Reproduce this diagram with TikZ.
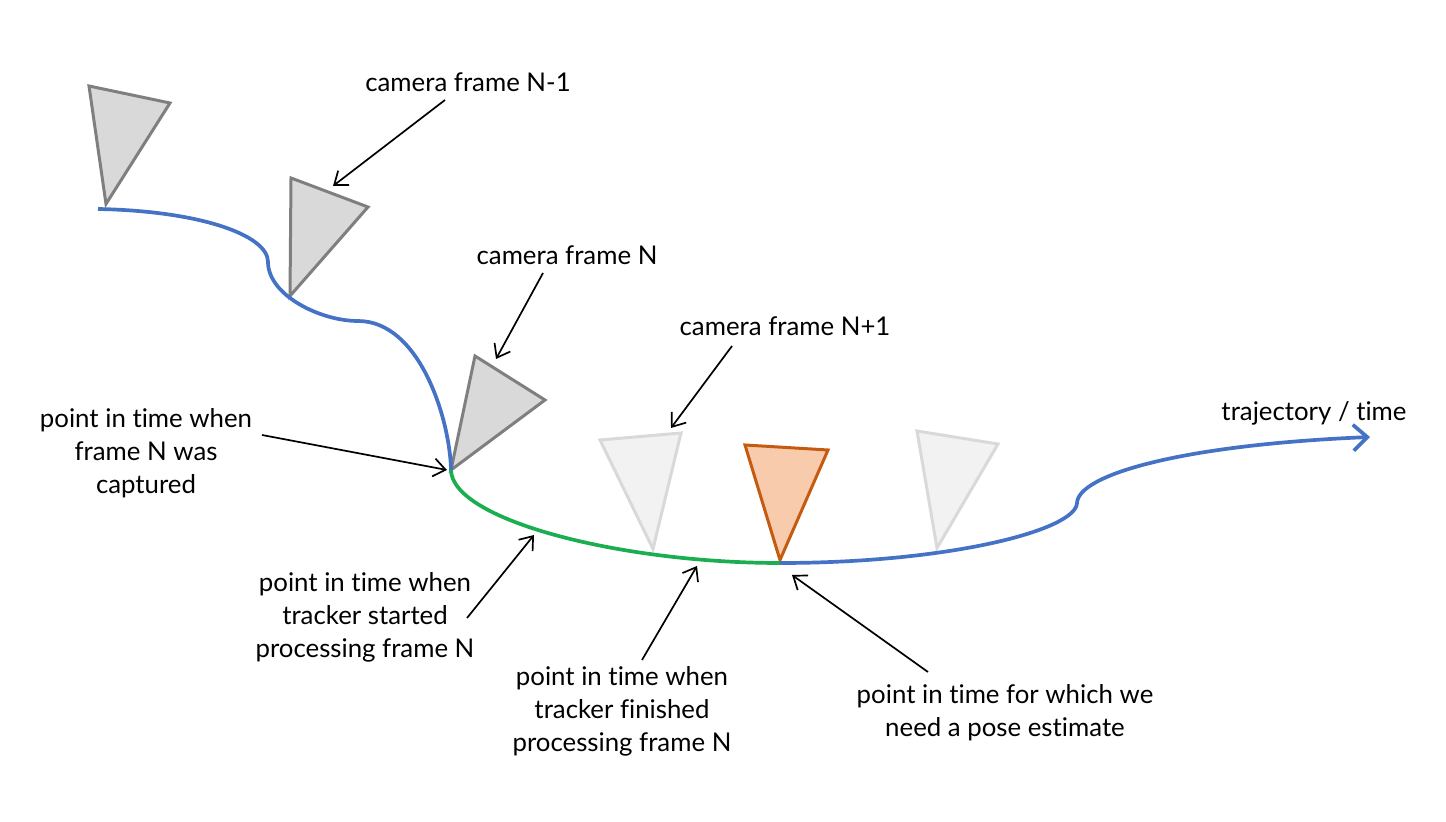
\documentclass[tikz,border=0pt]{standalone}
\usepackage{fontspec}
\setmainfont{Lato}[Ligatures={NoCommon,NoRare}]
\usetikzlibrary{arrows.meta}
\definecolor{trajblue}{HTML}{4472C4}
\definecolor{trajgreen}{HTML}{1AAE50}
\definecolor{camgray}{HTML}{D9D9D9}
\definecolor{camedge}{HTML}{7F7F7F}
\definecolor{ghostfill}{HTML}{F2F2F2}
\definecolor{ghostedge}{HTML}{D9D9D9}
\definecolor{posefill}{HTML}{F8CBAD}
\definecolor{poseedge}{HTML}{C55A11}
\begin{document}
\begin{tikzpicture}[x=0.5pt,y=-0.5pt,
		label/.style={font=\fontsize{12.9}{16.5}\selectfont,align=center,inner sep=0pt},
		pointer/.style={line width=0.85pt,-{Straight Barb[length=6pt,width=9pt]}},
		traj/.style={line width=1.85pt}]
			\useasboundingbox (0,0) rectangle (1446,822);
			% cameras
			\foreach \a/\b/\c/\f/\d in {{(89,86)}/{(170,103)}/{(106,204)}/camgray/camedge,
				{(291,178)}/{(368,207)}/{(290,296)}/camgray/camedge,
				{(475,356)}/{(545,400)}/{(451,470)}/camgray/camedge,
				{(600,440)}/{(681,433)}/{(653,549)}/ghostfill/ghostedge,
				{(917,431)}/{(998,444)}/{(937,548)}/ghostfill/ghostedge,
				{(745,445)}/{(828,450)}/{(780,560)}/posefill/poseedge} {
				\filldraw[fill=\f,draw=\d,line width=1.5pt] \a -- \b -- \c -- cycle;
			}
			% trajectory
			\coordinate (capt) at (451,470);
			\coordinate (now) at (780,563);
			\coordinate (kink) at (1077,503);
			\coordinate (tend) at (1370,437);
			\draw[traj,trajblue] (98,209) .. controls (200,211) and (268,235) .. (268,262)
				.. controls (268,295) and (320,321) .. (358,321)
				.. controls (420,321) and (450,420) .. (capt);
			\draw[traj,trajgreen] (capt) .. controls (452,520) and (620,563) .. (now);
			\draw[traj,trajblue,-{Straight Barb[length=7pt,width=13pt]}] (now) .. controls (950,563) and (1076,530) .. (kink)
				.. controls (1078,475) and (1180,445) .. (tend);
			% labels
			\node[label] (camNm1) at (468,82) {camera frame N-1};
			\node[label] (camN) at (567,255) {camera frame N};
			\node[label] (camNp1) at (785,326) {camera frame N+1};
			\node[label] (captured) at (146,453) {point in time when\\frame N was\\captured};
			\node[label] (started) at (365,617) {point in time when\\tracker started\\processing frame N};
			\node[label] (finished) at (622,711) {point in time when\\tracker finished\\processing frame N};
			\node[label] (needed) at (1005,713) {point in time for which we\\need a pose estimate};
			\node[label] (trajlbl) at (1314,413) {trajectory / time};
			% pointers
			\coordinate (pNm1) at (333,186);
			\coordinate (pN) at (496,359);
			\coordinate (pNp1) at (671,428);
			\coordinate (pcapt) at (447,470);
			\coordinate (pstart) at (534,535);
			\coordinate (pfin) at (697,566);
			\coordinate (pneed) at (792,575);
			\draw[pointer] (445,100) -- (pNm1);
			\draw[pointer] (543,273) -- (pN);
			\draw[pointer] (732,346) -- (pNp1);
			\draw[pointer] (262,435) -- (pcapt);
			\draw[pointer] (467,618) -- (pstart);
			\draw[pointer] (642,660) -- (pfin);
			\draw[pointer] (928,672) -- (pneed);
		\end{tikzpicture}
\end{document}
